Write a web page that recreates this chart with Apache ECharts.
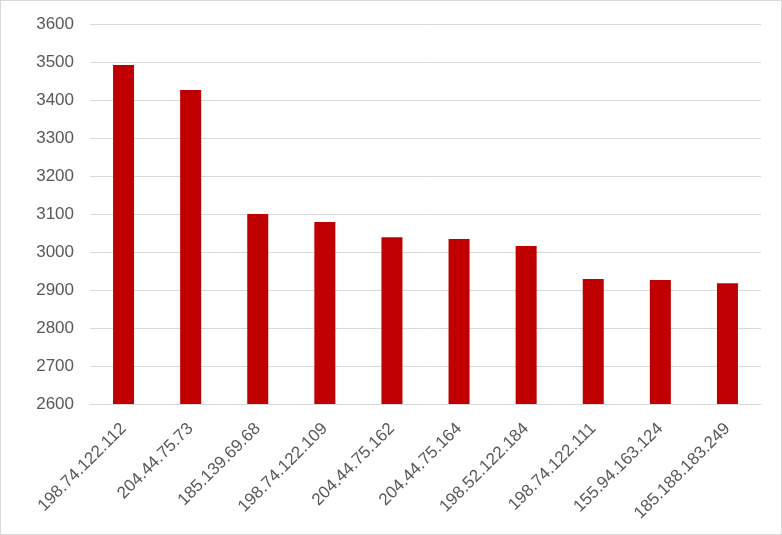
<!DOCTYPE html>
<html>
<head>
<meta charset="utf-8">
<script src="https://cdn.jsdelivr.net/npm/echarts@6/dist/echarts.min.js"></script>
<style>
  html, body { margin: 0; padding: 0; background: #fff; }
  #chart { width: 780px; height: 533px; border: 1px solid #d9d9d9; }
</style>
</head>
<body>
<div id="chart"></div>
<script>
// values
const hosts = ['198.74.122.112', '204.44.75.73', '185.139.69.68', '198.74.122.109', '204.44.75.162',
               '204.44.75.164', '198.52.122.184', '198.74.122.111', '155.94.163.124', '185.188.183.249'];
const counts = [3492, 3426, 3100, 3079, 3039, 3034, 3016, 2929, 2926, 2918];

let chart = echarts.init(document.getElementById('chart'));
let option = {
    animation: false,
    grid: { left: 89, right: 20, top: 23, bottom: 130 },
    xAxis: {
        type: 'category',
        data: hosts,
        axisLine: { lineStyle: { color: '#d9d9d9' } },
        axisTick: { show: false },
        axisLabel: {
            rotate: 45,
            interval: 0,
            color: '#595959',
            fontFamily: 'Liberation Sans',
            fontSize: 17,
            margin: 22
        }
    },
    yAxis: {
        type: 'value',
        min: 2600,
        max: 3600,
        interval: 100,
        axisLine: { show: false },
        axisTick: { show: false },
        splitLine: { lineStyle: { color: '#d9d9d9' } },
        axisLabel: {
            color: '#595959',
            fontFamily: 'Liberation Sans',
            fontSize: 17,
            margin: 16,
            formatter: v => String(v)
        }
    },
    series: [
        {
            type: 'bar',
            data: counts,
            barWidth: 21,
            itemStyle: { color: '#c00000' }
        }
    ]
};
chart.setOption(option);
</script>
</body>
</html>
